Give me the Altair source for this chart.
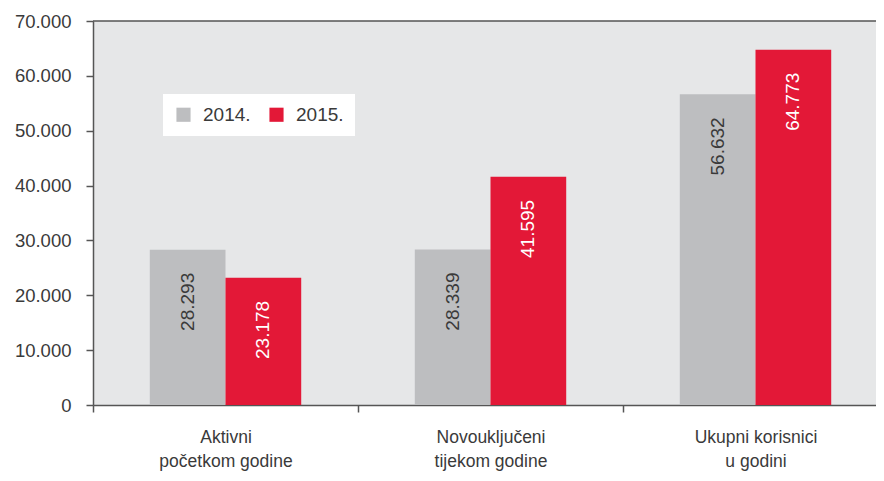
import altair as alt
import pandas as pd

categories = ["Aktivni|početkom godine", "Novouključeni|tijekom godine", "Ukupni korisnici|u godini"]
years = ["2014.", "2015."]
v2014 = [28293, 28339, 56632]
v2015 = [23178, 41595, 64773]
y_ticks = [0, 10000, 20000, 30000, 40000, 50000, 60000, 70000]
colors = ["#BDBEC0", "#E31837"]

rows = []
for c, a, b in zip(categories, v2014, v2015):
    rows.append({"cat": c, "year": years[0], "value": a})
    rows.append({"cat": c, "year": years[1], "value": b})
df = pd.DataFrame(rows)
df["label"] = df["value"].map(lambda v: f"{v:,}".replace(",", "."))

FONT = "Liberation Sans"
W, H = 783, 384

base = alt.Chart(df).encode(
    x=alt.X(
        "cat:N",
        sort=categories,
        scale=alt.Scale(paddingInner=0, paddingOuter=0, range=[0, 795]),
        axis=alt.Axis(
            title=None,
            labelAngle=0,
            labelExpr="split(datum.label, '|')",
            tickBand="extent",
            tickSize=7,
            labelPadding=16,
            labelBaseline="top",
            labelLineHeight=24,
            labelFontSize=17.5,
            labelColor="#3a3a3a",
            labelFont=FONT,
        ),
    ),
    xOffset=alt.XOffset("year:N", sort=years, scale=alt.Scale(paddingInner=0, paddingOuter=0.75)),
    y=alt.Y(
        "value:Q",
        scale=alt.Scale(domain=[0, 70000], nice=False),
        axis=alt.Axis(
            title=None,
            values=y_ticks,
            grid=False,
            tickSize=7,
            labelPadding=15,
            labelFontSize=18.5,
            labelColor="#3a3a3a",
            labelFont=FONT,
            labelExpr="replace(format(datum.value, ','), ',', '.')",
        ),
    ),
)

bars = base.mark_bar().encode(
    color=alt.Color(
        "year:N",
        sort=years,
        scale=alt.Scale(domain=years, range=colors),
        legend=alt.Legend(
            title=None,
            orient="none",
            legendX=70,
            legendY=73,
            direction="horizontal",
            fillColor="white",
            padding=11,
            symbolType="square",
            symbolSize=200,
            symbolStrokeWidth=0,
            labelFontSize=19,
            labelFont=FONT,
            labelColor="#3a3a3a",
            columnPadding=16,
            labelOffset=10,
        ),
    )
)

text = base.mark_text(
    angle=270, align="right", baseline="middle", dx=-23, fontSize=19, font=FONT
).encode(
    text="label:N",
    color=alt.condition("datum.year === '2014.'", alt.value("#3a3a3a"), alt.value("white")),
)

top = alt.Chart(pd.DataFrame({"v": [70000]})).mark_rule(color="#555555", strokeWidth=1.5).encode(
    y=alt.Y("v:Q")
)

chart = (
    alt.layer(bars, text, top)
    .properties(
        width=W,
        height=H,
        padding={"left": 85, "top": 13, "right": 0, "bottom": 68},
        autosize="none",
    )
    .configure_view(fill="#E6E7E8", stroke=None)
    .configure_axis(domainColor="#555555", domainWidth=1.5, tickColor="#555555", tickWidth=1.5)
)

chart.save("out.html", embed_options={"renderer": "svg", "actions": False})
